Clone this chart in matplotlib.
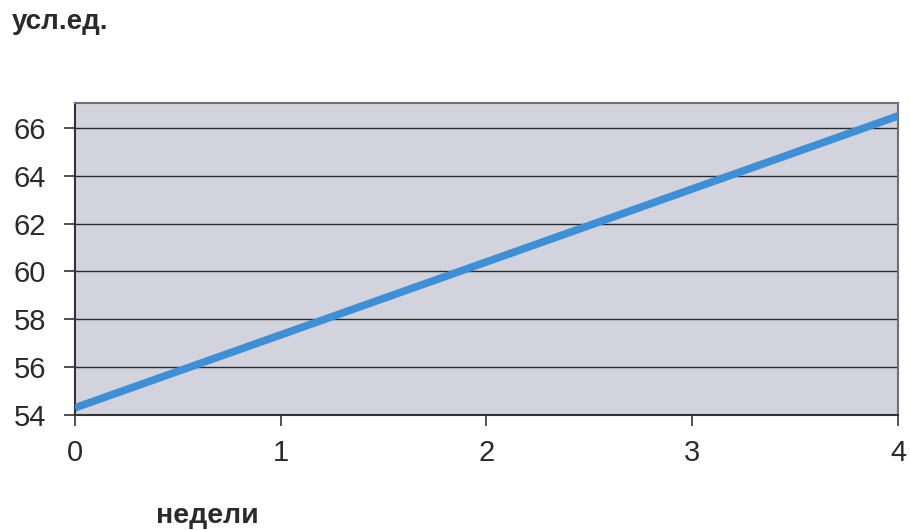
import matplotlib
matplotlib.use('Agg')
import matplotlib.pyplot as plt

# Данные: недели и значения (усл.ед.)
weeks = [0, 1, 2, 3, 4]
values = [54.3, 57.35, 60.4, 63.45, 66.5]
y_ticks = [54, 56, 58, 60, 62, 64, 66]
x_ticks = [0, 1, 2, 3, 4]

plt.rcParams['font.family'] = ['Liberation Sans', 'DejaVu Sans']

fig = plt.figure(figsize=(9.1, 5.3), dpi=100)
ax = fig.add_axes([0.0824, 0.217, 0.9044, 0.589])
ax.set_facecolor('#d3d3de')

ax.plot(weeks, values, color='#3d8fd6', linewidth=5.5, solid_capstyle='butt', zorder=3)

ax.set_xlim(0, 4)
ax.set_ylim(54, 67.05)
ax.set_xticks(x_ticks)
ax.set_yticks(y_ticks)
ax.grid(axis='y', color='#2a2a2a', linewidth=1)
ax.set_axisbelow(True)

for s in ax.spines.values():
    s.set_color('#707070')
    s.set_linewidth(1.5)
ax.spines['bottom'].set_color('#333333')
ax.spines['left'].set_color('#333333')

ax.tick_params(axis='both', labelsize=21, colors='#333333', labelcolor='#2a2a2a',
               length=8, width=1.2, direction='out')
ax.tick_params(axis='y', pad=13)
ax.tick_params(axis='x', pad=9)

fig.text(0.013, 0.958, 'усл.ед.', fontsize=20, fontweight='bold', color='#2a2a2a',
         ha='left', va='center')
fig.text(0.171, 0.027, 'недели', fontsize=20.5, fontweight='bold', color='#2a2a2a',
         ha='left', va='center')

fig.savefig('out.png', dpi=100)
